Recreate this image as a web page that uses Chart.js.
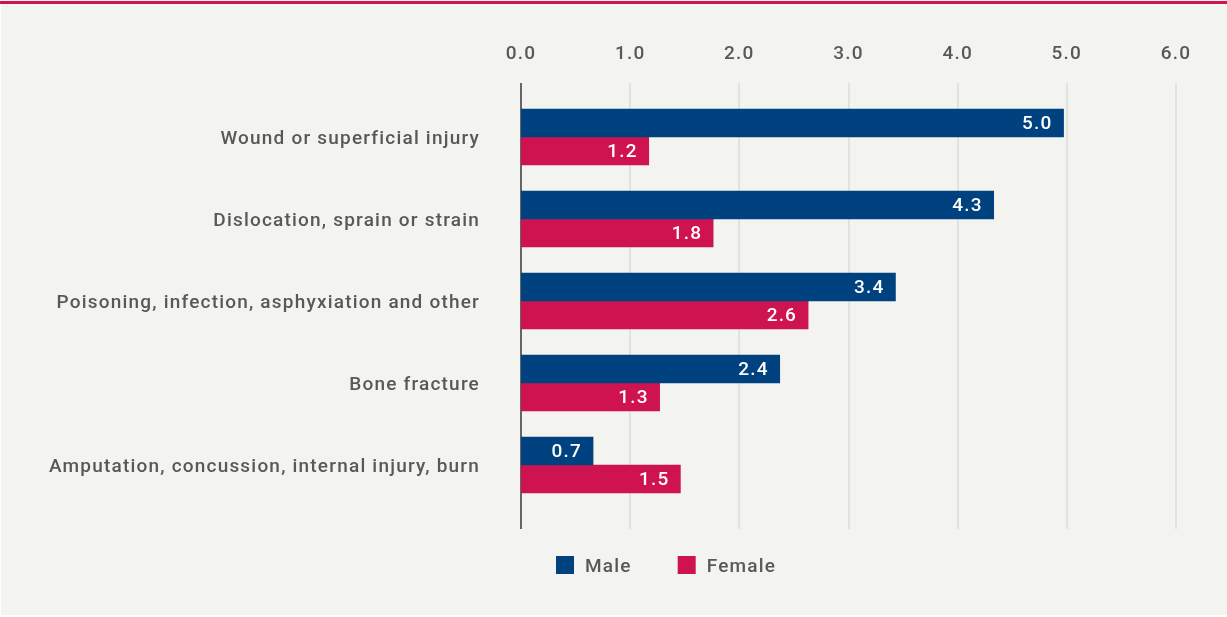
<!DOCTYPE html>
<html>
<head>
<meta charset="utf-8">
<script src="https://cdn.jsdelivr.net/npm/chart.js@4"></script>
<style>
  html, body { margin: 0; padding: 0; background: #ffffff; }
  #panel { position: absolute; left: 1px; top: 0; width: 1226px; height: 615px; background: #f3f3ef; }
  #topline { position: absolute; left: 0; top: 1px; width: 1227px; height: 3px; background: #cf1350; }
  #wrap { position: absolute; left: 0; top: 0; width: 1227px; height: 617px; }
</style>
</head>
<body>
<div id="panel"></div>
<div id="topline"></div>
<div id="wrap"><canvas id="myChart" width="1227" height="617"></canvas></div>
<script>
// data
var categories = [
  'Wound or superficial injury',
  'Dislocation, sprain or strain',
  'Poisoning, infection, asphyxiation and other',
  'Bone fracture',
  'Amputation, concussion, internal injury, burn'
];
var maleValues = [4.97, 4.33, 3.43, 2.37, 0.66];
var femaleValues = [1.17, 1.76, 2.63, 1.27, 1.46];
var seriesNames = ['Male', 'Female'];
var seriesColors = ['#00427f', '#cf1350'];
var xTicks = [0, 1, 2, 3, 4, 5, 6];

var textColor = '#58585a';
var fontFamily = 'Roboto, "Open Sans", sans-serif';

// the reference type is set a little wider, so space the letters out
// (canvas resize wipes the ctx state, so set it again before each update)
var spacingPlugin = {
  id: 'letterSpacing',
  beforeUpdate: function (chart) { chart.ctx.letterSpacing = '1.2px'; },
  beforeDraw: function (chart) { chart.ctx.letterSpacing = '1.2px'; }
};

// vertical grid lines that run a bit past the bars
var gridPlugin = {
  id: 'gridLines',
  beforeDatasetsDraw: function (chart) {
    var ctx = chart.ctx, area = chart.chartArea, xs = chart.scales.x;
    ctx.save();
    xTicks.forEach(function (v) {
      var x = Math.round(xs.getPixelForValue(v));
      ctx.beginPath();
      if (v === 0) {
        ctx.strokeStyle = '#666666';
        ctx.lineWidth = 2;
      } else {
        ctx.strokeStyle = '#dddddb';
        ctx.lineWidth = 1.5;
      }
      ctx.moveTo(x, area.top - 13);
      ctx.lineTo(x, area.bottom + 23);
      ctx.stroke();
    });
    ctx.restore();
  }
};

// value labels inside the end of each bar
var valueLabels = {
  id: 'valueLabels',
  afterDatasetsDraw: function (chart) {
    var ctx = chart.ctx;
    ctx.save();
    ctx.font = '500 19px ' + fontFamily;
    ctx.fillStyle = '#ffffff';
    ctx.textAlign = 'right';
    ctx.textBaseline = 'middle';
    chart.data.datasets.forEach(function (ds, i) {
      chart.getDatasetMeta(i).data.forEach(function (bar, j) {
        ctx.fillText(ds.data[j].toFixed(1), bar.x - 11, bar.y + 1);
      });
    });
    ctx.restore();
  }
};

// legend under the plot
var legendPlugin = {
  id: 'customLegend',
  afterDraw: function (chart) {
    var ctx = chart.ctx, area = chart.chartArea;
    var x = area.left + 35, y = area.bottom + 59;
    ctx.save();
    ctx.font = '500 19px ' + fontFamily;
    ctx.textBaseline = 'middle';
    chart.data.datasets.forEach(function (ds) {
      ctx.fillStyle = ds.backgroundColor;
      ctx.fillRect(x, y - 9, 18, 18);
      ctx.fillStyle = textColor;
      ctx.fillText(ds.label, x + 29, y + 2);
      x += 29 + ctx.measureText(ds.label).width + 46;
    });
    ctx.restore();
  }
};

var ctx = document.getElementById('myChart').getContext('2d');
var myChart = new Chart(ctx, {
  type: 'bar',
  data: {
    labels: categories,
    datasets: [
      { label: seriesNames[0], data: maleValues, backgroundColor: seriesColors[0] },
      { label: seriesNames[1], data: femaleValues, backgroundColor: seriesColors[1] }
    ]
  },
  options: {
    indexAxis: 'y',
    responsive: false,
    animation: false,
    barThickness: 28,
    layout: { padding: { left: 0, right: 51, top: 0, bottom: 111 } },
    plugins: {
      legend: { display: false },
      tooltip: { enabled: false }
    },
    scales: {
      x: {
        position: 'top',
        min: 0,
        max: 6,
        afterBuildTicks: function (s) { s.ticks = xTicks.map(function (v) { return { value: v }; }); },
        afterFit: function (s) { s.height = 96; },
        grid: { display: false, drawTicks: false },
        border: { display: false },
        ticks: {
          padding: 30,
          color: textColor,
          font: { family: fontFamily, size: 19, weight: 500 },
          callback: function (v) { return Number(v).toFixed(1); }
        }
      },
      y: {
        afterFit: function (s) { s.width = 521; },
        grid: { display: false, drawTicks: false },
        border: { display: false },
        ticks: {
          padding: 41,
          labelOffset: 2,
          color: textColor,
          font: { family: fontFamily, size: 19, weight: 500 }
        }
      }
    }
  },
  plugins: [spacingPlugin, gridPlugin, valueLabels, legendPlugin]
});
</script>
</body>
</html>
